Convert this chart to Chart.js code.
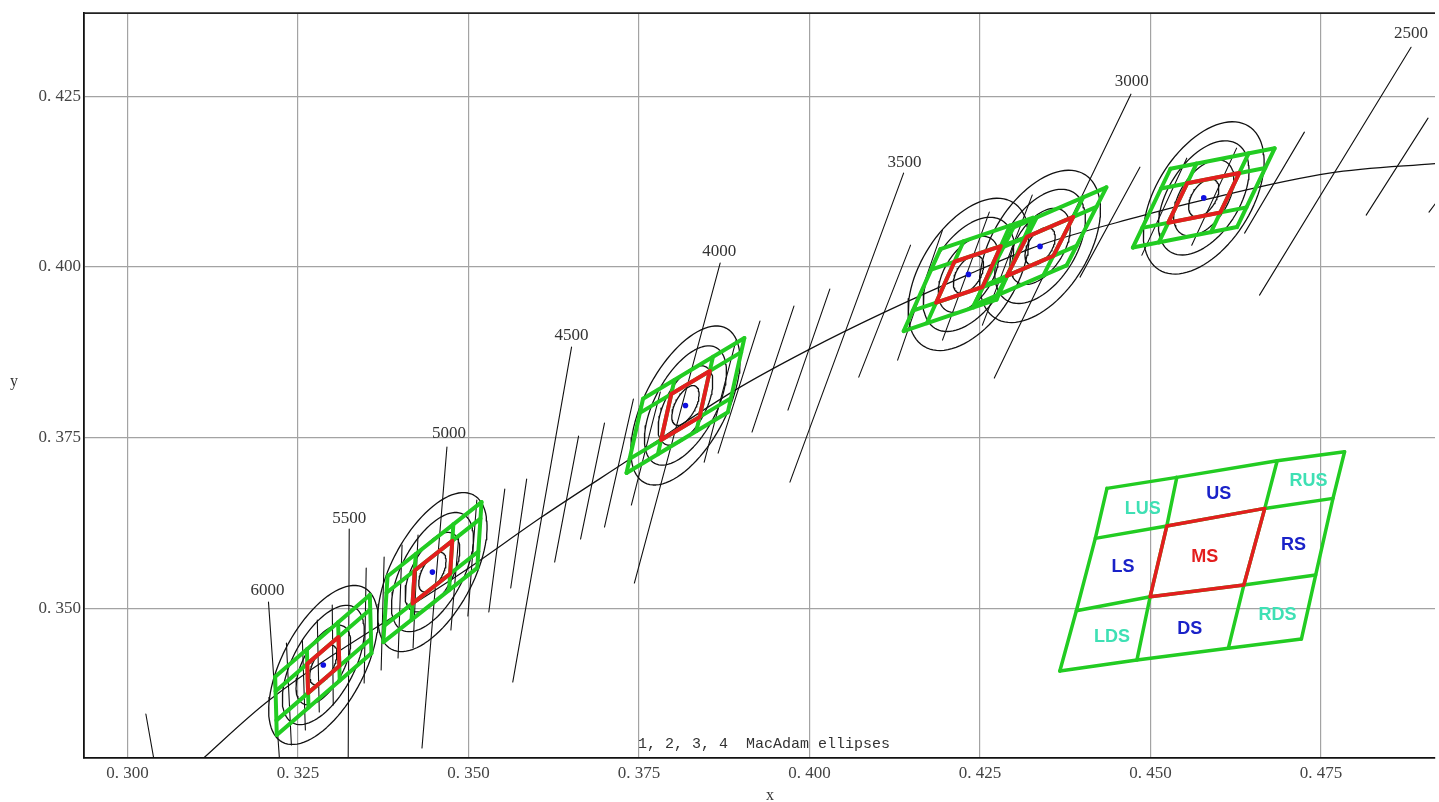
<!DOCTYPE html>
<html>
<head>
<meta charset="utf-8">
<script src="https://cdn.jsdelivr.net/npm/chart.js"></script>
<style>
  body { margin: 0; background: #fff; }
  #chart-wrapper { width: 1439px; height: 802px; }
</style>
</head>
<body>
<div id="chart-wrapper">
    <canvas id="my-chart"></canvas>
</div>

<script>
// tick values
const xTicks = [0.300, 0.325, 0.350, 0.375, 0.400, 0.425, 0.450, 0.475];
const yTicks = [0.350, 0.375, 0.400, 0.425];

// planckian locus
const locusX = [0.31001, 0.32080, 0.35004, 0.36072, 0.37344, 0.38908, 0.39975, 0.41101, 0.42343, 0.43381, 0.44800, 0.45767, 0.47621, 0.49259];
const locusY = [0.32705, 0.33657, 0.35589, 0.36336, 0.37171, 0.38195, 0.38781, 0.39337, 0.39894, 0.40318, 0.40728, 0.40977, 0.41373, 0.41519];

// isotherm segments (start / end)
const isoX1 = [0.30268, 0.32066, 0.32329, 0.32563, 0.32782, 0.33001, 0.33250, 0.33499, 0.33762, 0.34025, 0.34259, 0.34683, 0.34858, 0.35121, 0.35531, 0.35852, 0.36510, 0.36613, 0.36993, 0.37417, 0.37811, 0.38689, 0.38923, 0.39273, 0.39771, 0.40297, 0.41379, 0.41481, 0.41949, 0.42636, 0.43265, 0.44712, 0.44844, 0.45531, 0.46262, 0.47256, 0.48820, 0.49069, 0.49551];
const isoY1 = [0.33452, 0.35092, 0.34491, 0.34535, 0.34828, 0.35048, 0.36160, 0.35589, 0.35750, 0.35926, 0.36073, 0.37361, 0.36073, 0.36585, 0.36746, 0.36892, 0.38825, 0.37522, 0.37712, 0.38064, 0.38166, 0.40055, 0.38928, 0.39206, 0.39425, 0.39674, 0.41373, 0.40318, 0.40538, 0.40802, 0.41051, 0.42529, 0.41460, 0.41592, 0.41739, 0.41973, 0.43217, 0.42178, 0.41417];
const isoX2 = [0.30385, 0.32227, 0.32402, 0.32607, 0.32811, 0.33016, 0.33235, 0.33469, 0.33718, 0.33966, 0.34186, 0.34317, 0.34741, 0.34990, 0.35297, 0.35618, 0.35648, 0.36262, 0.36642, 0.36993, 0.37387, 0.37431, 0.38455, 0.38659, 0.39156, 0.39683, 0.39712, 0.40721, 0.41291, 0.41949, 0.42534, 0.42709, 0.43966, 0.44873, 0.45604, 0.46379, 0.46598, 0.48162, 0.49083];
const isoY2 = [0.32793, 0.32793, 0.32998, 0.33217, 0.33481, 0.33584, 0.32793, 0.33906, 0.34096, 0.34272, 0.34418, 0.32954, 0.34682, 0.34887, 0.34945, 0.35297, 0.33920, 0.35677, 0.36014, 0.36190, 0.36512, 0.35370, 0.37141, 0.37273, 0.37581, 0.37903, 0.36848, 0.38386, 0.38635, 0.38928, 0.39147, 0.38371, 0.39850, 0.40172, 0.40318, 0.40494, 0.39586, 0.40758, 0.40802];

// CCT labels on the long isotherms
const cctLabels = ['6000', '5500', '5000', '4500', '4000', '3500', '3000', '2500'];
const cctLabelX = [0.32051, 0.33250, 0.34712, 0.36510, 0.38674, 0.41393, 0.44726, 0.48820];
const cctLabelY = [0.35267, 0.36321, 0.37566, 0.39001, 0.40231, 0.41534, 0.42720, 0.43422];

// bins: centre, half edge vectors U (along locus) and V (along isotherm), red cell fraction
const binX  = [0.3287, 0.3447, 0.3818, 0.4233, 0.4338, 0.4578];
const binY  = [0.3417, 0.3553, 0.3797, 0.3989, 0.4030, 0.4101];
const binUx = [0.00694, 0.00689, 0.00743, 0.00681, 0.00681, 0.00764];
const binUy = [0.00598, 0.00543, 0.00445, 0.00230, 0.00293, 0.00150];
const binVx = [-0.00012, 0.00031, 0.00121, 0.00269, 0.00292, 0.00276];
const binVy = [0.00427, 0.00482, 0.00543, 0.00600, 0.00571, 0.00577];
const binFu = [0.33, 0.40, 0.38, 0.5, 0.5, 0.5];
const binFv = [0.5, 0.5, 0.62, 0.5, 0.5, 0.5];

// 4-step MacAdam ellipse of each bin (semi axes, tilt in degrees)
const ellA = [0.0128, 0.0128, 0.0128, 0.0124, 0.0124, 0.0124];
const ellB = [0.0060, 0.0060, 0.0060, 0.0070, 0.0070, 0.0070];
const ellAngle = [62, 62, 62, 58, 58, 58];
const ellSteps = [1, 2, 3, 4];

// legend diagram: 4x4 grid nodes, rows top -> bottom
const insetX = [
    [0.44361, 0.45385, 0.46857, 0.47845],
    [0.44190, 0.45238, 0.46675, 0.47675],
    [0.43912, 0.44994, 0.46368, 0.47421],
    [0.43670, 0.44800, 0.46140, 0.47212]];
const insetY = [
    [0.36756, 0.36917, 0.37160, 0.37292],
    [0.36024, 0.36204, 0.36463, 0.36610],
    [0.34964, 0.35169, 0.35340, 0.35487],
    [0.34081, 0.34242, 0.34414, 0.34550]];
const insetNames = ['LUS', 'US', 'RUS', 'LS', 'MS', 'RS', 'LDS', 'DS', 'RDS'];
const insetNameX = [0.44887, 0.45999, 0.47315, 0.44595, 0.45795, 0.47096, 0.44435, 0.45576, 0.46862];
const insetNameY = [0.36453, 0.36673, 0.36863, 0.35604, 0.35750, 0.35926, 0.34579, 0.34696, 0.34901];

const GREEN = '#22cc22';
const RED = '#e31e1e';
const BLUE = '#1a22c8';
const TEAL = '#3ee0b4';

var datasets = [];

function addLine(pts, color, width, order) {
    datasets.push({
        data: pts,
        showLine: true,
        borderColor: color,
        borderWidth: width,
        borderCapStyle: 'round',
        borderJoinStyle: 'round',
        pointRadius: 0,
        fill: false,
        order: order
    });
}

function binPoint(i, u, v) {
    return {
        x: binX[i] + u * binUx[i] + v * binVx[i],
        y: binY[i] + u * binUy[i] + v * binVy[i]
    };
}

// locus
var locus = [];
for (var i in locusX) locus.push({x: locusX[i], y: locusY[i]});
datasets.push({
    data: locus, showLine: true, borderColor: '#111', borderWidth: 1.2,
    pointRadius: 0, fill: false, cubicInterpolationMode: 'monotone', order: 5
});

// isotherms
for (var i in isoX1) {
    addLine([{x: isoX1[i], y: isoY1[i]}, {x: isoX2[i], y: isoY2[i]}], '#111', 1.1, 5);
}

// ellipses
for (var i = 0; i < binX.length; i++) {
    var th = ellAngle[i] * Math.PI / 180;
    for (var k of ellSteps) {
        var pts = [];
        var a = ellA[i] * k / 4, b = ellB[i] * k / 4;
        for (var s = 0; s <= 90; s++) {
            var t = s / 90 * 2 * Math.PI;
            pts.push({
                x: binX[i] + a * Math.cos(t) * Math.cos(th) - b * Math.sin(t) * Math.sin(th),
                y: binY[i] + a * Math.cos(t) * Math.sin(th) + b * Math.sin(t) * Math.cos(th)
            });
        }
        addLine(pts, '#111', 1.3, 4);
    }
}

// bin grids
for (var i = 0; i < binX.length; i++) {
    var us = [-1, -binFu[i], binFu[i], 1];
    var vs = [-1, -binFv[i], binFv[i], 1];
    us.forEach(function(u) { addLine([binPoint(i, u, -1), binPoint(i, u, 1)], GREEN, 4, 3); });
    vs.forEach(function(v) { addLine([binPoint(i, -1, v), binPoint(i, 1, v)], GREEN, 4, 3); });
    var fu = binFu[i], fv = binFv[i];
    addLine([binPoint(i, -fu, -fv), binPoint(i, fu, -fv), binPoint(i, fu, fv), binPoint(i, -fu, fv), binPoint(i, -fu, -fv)], RED, 4, 2);
}

// bin centres
var centres = [];
for (var i in binX) centres.push({x: binX[i], y: binY[i]});
datasets.push({
    data: centres, showLine: false, pointRadius: 2.8, pointBackgroundColor: '#1010e0',
    pointBorderWidth: 0, order: 1
});

// legend diagram
for (var r = 0; r < 4; r++) {
    var row = [], col = [];
    for (var c = 0; c < 4; c++) {
        row.push({x: insetX[r][c], y: insetY[r][c]});
        col.push({x: insetX[c][r], y: insetY[c][r]});
    }
    addLine(row, GREEN, 3.5, 3);
    addLine(col, GREEN, 3.5, 3);
}
addLine([
    {x: insetX[1][1], y: insetY[1][1]}, {x: insetX[1][2], y: insetY[1][2]},
    {x: insetX[2][2], y: insetY[2][2]}, {x: insetX[2][1], y: insetY[2][1]},
    {x: insetX[1][1], y: insetY[1][1]}], RED, 3.5, 2);

function fmt(v) {
    return v.toFixed(3).replace('.', '. ');
}

const textPlugin = {
    id: 'texts',
    afterDatasetsDraw(chart) {
        const c = chart.ctx, xs = chart.scales.x, ys = chart.scales.y, area = chart.chartArea;
        c.save();
        c.strokeStyle = '#222';
        c.lineWidth = 1.8;
        c.beginPath();
        c.moveTo(area.left, area.top);
        c.lineTo(area.right, area.top);
        c.stroke();

        c.textAlign = 'center';
        c.textBaseline = 'middle';
        c.fillStyle = '#333';
        c.font = '17px "Liberation Serif", serif';
        for (var i in cctLabels) {
            c.fillText(cctLabels[i], xs.getPixelForValue(cctLabelX[i]), ys.getPixelForValue(cctLabelY[i]));
        }
        c.font = '16px "Liberation Serif", serif';
        c.fillText('y', 14, (area.top + area.bottom) / 2 - 4);
        c.fillText('x', area.left + 686, 796);

        c.font = '15px "Liberation Mono", monospace';
        c.fillText('1, 2, 3, 4  MacAdam ellipses', xs.getPixelForValue(0.39332), ys.getPixelForValue(0.33013));

        c.font = 'bold 18px "Liberation Sans", Arial, sans-serif';
        for (var i in insetNames) {
            var n = insetNames[i];
            c.fillStyle = n === 'MS' ? RED : (n.length === 3 ? TEAL : BLUE);
            c.fillText(n, xs.getPixelForValue(insetNameX[i]), ys.getPixelForValue(insetNameY[i]));
        }
        c.restore();
    }
};

const tickFont = { size: 17, family: '"Liberation Serif", serif' };
const ctx = document.getElementById('my-chart');
var chart = new Chart(ctx, {
    type: 'scatter',
    data: { datasets: datasets },
    options: {
        responsive: true,
        maintainAspectRatio: false,
        animation: false,
        events: [],
        layout: { padding: { top: 13, right: 0, bottom: 0, left: 0 } },
        plugins: { legend: { display: false }, tooltip: { enabled: false } },
        scales: {
            x: {
                type: 'linear', min: 0.29361, max: 0.49171,
                afterBuildTicks: function(s) { s.ticks = xTicks.map(function(v) { return {value: v}; }); },
                afterFit: function(s) { s.height = 44.3; },
                grid: { color: '#a3a3a3', lineWidth: 1.2, drawTicks: false },
                border: { color: '#111', width: 1.8 },
                ticks: { padding: 6, color: '#444', font: tickFont, callback: fmt, maxRotation: 0, autoSkip: false }
            },
            y: {
                type: 'linear', min: 0.32812, max: 0.43715,
                afterBuildTicks: function(s) { s.ticks = yTicks.map(function(v) { return {value: v}; }); },
                afterFit: function(s) { s.width = 84; },
                grid: { color: '#a3a3a3', lineWidth: 1.2, drawTicks: false },
                border: { color: '#111', width: 1.8 },
                ticks: { padding: 3, color: '#444', font: tickFont, callback: fmt, autoSkip: false }
            }
        }
    },
    plugins: [textPlugin]
});
</script>
</body>
</html>
